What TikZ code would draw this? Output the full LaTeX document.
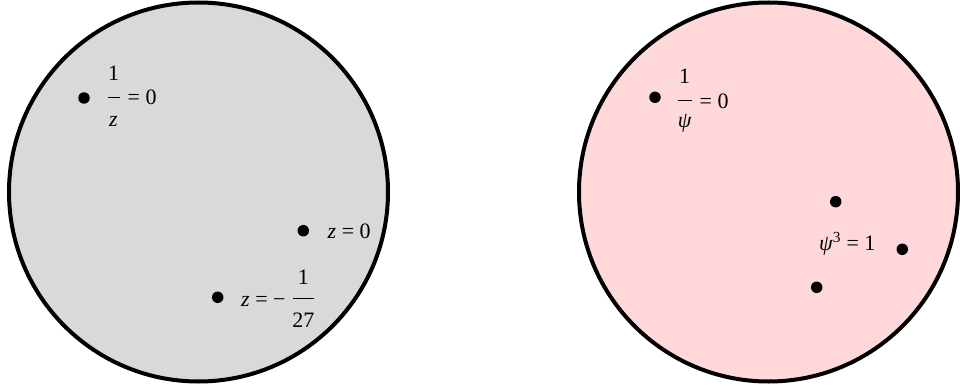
\documentclass[tikz,border=0pt]{standalone}
\usepackage{fontspec}
\setmainfont{Liberation Serif}
\definecolor{diskgray}{RGB}{217,217,217}
\definecolor{diskpink}{RGB}{255,217,218}
\tikzset{
  disk/.style={line width=4pt, draw=black},
  dotpt/.style={circle, fill=black, inner sep=0pt, minimum size=11.5pt},
  lbl/.style={inner sep=0pt, font=\fontsize{22}{26}\selectfont},
  fracbar/.style={line width=1.2pt},
}
\begin{document}
\begin{tikzpicture}[x=1pt,y=-1pt]
\useasboundingbox (0,0) rectangle (960,390);
% disks
\draw[disk, fill=diskgray] (198.5,192) circle[radius=189.5];
\draw[disk, fill=diskpink] (768.5,192) circle[radius=189.5];

% left disk
\node[dotpt] (zinf) at (84,98) {};
\node[lbl, anchor=base] (zinfnum) at (113.5,80.7) {1};
\draw[fracbar] (107.7,97.3) -- (120,97.3);
\node[lbl, anchor=base] (zinfden) at (113.5,126.7) {\itshape z};
\node[lbl, anchor=base west] (zinfeq) at (127.5,105) {= 0};

\node[dotpt] (zzero) at (303.3,230.7) {};
\node[lbl, anchor=base west] (zzerolbl) at (327.5,238.3) {\itshape z\upshape\ = 0};

\node[dotpt] (zcon) at (217.7,297.3) {};
\node[lbl, anchor=base west] (zconlbl) at (241,306.5) {\itshape z\upshape\ = −};
\node[lbl, anchor=base] (zconnum) at (303.3,284) {1};
\draw[fracbar] (292.7,298.3) -- (314,298.3);
\node[lbl, anchor=base] (zconden) at (303.3,327.3) {27};

% right disk
\node[dotpt] (psiinf) at (655,97.3) {};
\node[lbl, anchor=base] (psiinfnum) at (684.7,84) {1};
\draw[fracbar] (677.7,100.7) -- (691.7,100.7);
\node[lbl, anchor=base] (psiinfden) at (684.7,128) {\itshape ψ};
\node[lbl, anchor=base west] (psiinfeq) at (699.5,108.3) {= 0};

\node[dotpt] (r1) at (835.7,201.7) {};
\node[dotpt] (r2) at (902.3,249.3) {};
\node[dotpt] (r3) at (816.7,287.3) {};
\node[lbl, anchor=base west] (rootlbl) at (819,250.5) {\itshape ψ\upshape\textsuperscript{3} = 1};
\end{tikzpicture}
\end{document}
